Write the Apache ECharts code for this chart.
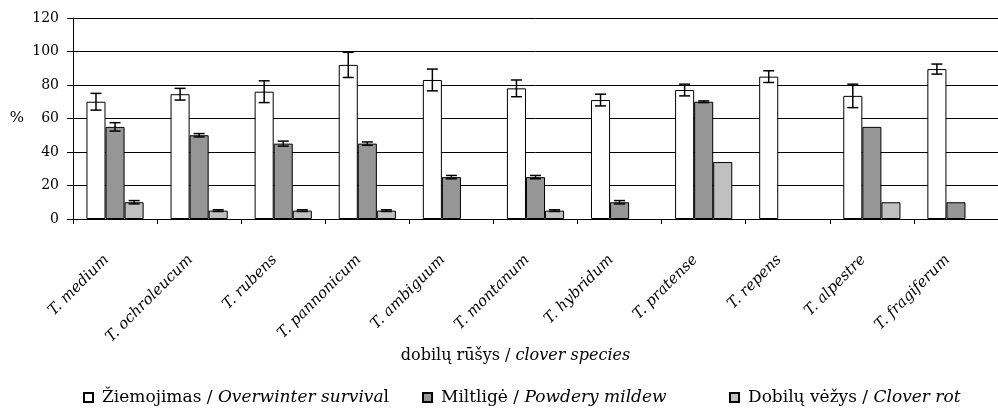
<!DOCTYPE html>
<html>
<head>
<meta charset="utf-8">
<script src="https://cdn.jsdelivr.net/npm/echarts@6/dist/echarts.min.js"></script>
<style>
html,body{margin:0;padding:0;background:#fff;}
#chart{width:998px;height:408px;}
</style>
</head>
<body>
<div id="chart"></div>
<script>
const categories = ['T. medium','T. ochroleucum','T. rubens','T. pannonicum','T. ambiguum','T. montanum','T. hybridum','T. pratense','T. repens','T. alpestre','T. fragiferum'];
const seriesNames = ['Žiemojimas / Overwinter survival','Miltligė / Powdery mildew','Dobilų vėžys / Clover rot'];
const survival = [70, 74.5, 76, 92, 83, 78, 71, 77, 85, 73.5, 89.5];
const survivalErr = [5, 3.5, 6.5, 7.5, 6.5, 5, 3.5, 3.5, 3.5, 7, 3];
const mildew = [55, 50, 45, 45, 25, 25, 10, 70, null, 55, 10];
const mildewErr = [2.5, 1, 1.5, 1, 1, 1, 1, 0.5, null, null, null];
const rot = [10, 5, 5, 5, null, 5, null, 34, null, 10, null];
const rotErr = [1, 0.5, 0.5, 0.5, null, 0.5, null, null, null, null, null];
const yTicks = [0, 20, 40, 60, 80, 100, 120];

const FONT = 'DejaVu Serif';
const GAP = 0.32;
const values = [survival, mildew, rot];
const errs = [survivalErr, mildewErr, rotErr];
const colors = ['#ffffff', '#969696', '#c0c0c0'];

function errData(v, e) {
  const out = [];
  v.forEach((val, i) => { if (val != null && e[i] != null) out.push([i, val, e[i]]); });
  return out;
}

function makeErrSeries(sIdx) {
  return {
    type: 'custom',
    z: 5,
    silent: true,
    data: errData(values[sIdx], errs[sIdx]),
    encode: { x: 0, y: 1 },
    renderItem: function (params, api) {
      const idx = api.value(0), v = api.value(1), e = api.value(2);
      const band = api.size([1, 0])[0];
      const bw = band * (1 - GAP) / 3;
      const cx = api.coord([idx, v])[0] + (sIdx - 1) * bw;
      const yTop = api.coord([idx, v + e])[1];
      const yBot = api.coord([idx, v - e])[1];
      const hw = 5.5;
      const st = { stroke: '#000', lineWidth: 1.5 };
      return {
        type: 'group',
        children: [
          { type: 'line', shape: { x1: cx, y1: yTop, x2: cx, y2: yBot }, style: st },
          { type: 'line', shape: { x1: cx - hw, y1: yTop, x2: cx + hw, y2: yTop }, style: st },
          { type: 'line', shape: { x1: cx - hw, y1: yBot, x2: cx + hw, y2: yBot }, style: st }
        ]
      };
    }
  };
}

const legendLabels = {
  [seriesNames[0]]: 'Žiemojimas / {i|Overwinter surviva}l',
  [seriesNames[1]]: 'Miltligė / {i|Powdery mildew}',
  [seriesNames[2]]: 'Dobilų vėžys / {i|Clover rot}'
};
const legendLeft = [83, 422, 729];

function makeLegend(i) {
  return {
    data: [seriesNames[i]],
    left: legendLeft[i],
    top: 389,
    padding: 0,
    icon: 'rect',
    itemWidth: 9,
    itemHeight: 9,
    selectedMode: false,
    formatter: n => legendLabels[n],
    textStyle: {
      fontFamily: FONT, fontSize: 17, color: '#000', padding: [0, 0, 0, 4],
      rich: { i: { fontFamily: FONT, fontSize: 17, fontStyle: 'italic', color: '#000' } }
    }
  };
}

const chart = echarts.init(document.getElementById('chart'));
chart.setOption({
  animation: false,
  backgroundColor: '#fff',
  grid: { left: 73, top: 18, bottom: 189, right: -4 },
  legend: [makeLegend(0), makeLegend(1), makeLegend(2)],
  xAxis: {
    type: 'category',
    data: categories,
    boundaryGap: true,
    name: '{n|dobilų rūšys / }{i|clover species}',
    nameLocation: 'middle',
    nameGap: 126,
    nameTextStyle: {
      padding: [0, 40, 0, 0],
      rich: {
        n: { fontFamily: FONT, fontSize: 16, color: '#000' },
        i: { fontFamily: FONT, fontSize: 16, fontStyle: 'italic', color: '#000' }
      }
    },
    axisLine: { lineStyle: { color: '#000', width: 1 } },
    axisTick: { show: true, alignWithLabel: false, length: 5, lineStyle: { color: '#000' } },
    axisLabel: {
      rotate: 45, margin: 30, interval: 0, padding: [0, 12, 0, 0],
      fontFamily: FONT, fontSize: 15, fontStyle: 'italic', color: '#000'
    },
    splitLine: { show: false }
  },
  yAxis: {
    type: 'value',
    min: 0, max: 120, interval: 20,
    name: '%',
    nameLocation: 'middle',
    nameRotate: 0,
    nameGap: 49,
    nameTextStyle: { fontFamily: FONT, fontSize: 15, color: '#000' },
    axisLine: { show: true, lineStyle: { color: '#000', width: 1 } },
    axisTick: { show: true, length: 6, lineStyle: { color: '#000' } },
    axisLabel: {
      margin: 14, fontFamily: FONT, fontSize: 14, color: '#000',
      formatter: v => yTicks.includes(v) ? String(v) : ''
    },
    splitLine: { show: true, lineStyle: { color: '#000', width: 1 } }
  },
  series: [
    ...values.map((arr, i) => ({
      name: seriesNames[i],
      type: 'bar',
      data: arr,
      barGap: '0%',
      barCategoryGap: (GAP * 100) + '%',
      itemStyle: { color: colors[i], borderColor: '#000', borderWidth: 1 },
      z: 2
    })),
    makeErrSeries(0), makeErrSeries(1), makeErrSeries(2)
  ]
});
</script>
</body>
</html>
